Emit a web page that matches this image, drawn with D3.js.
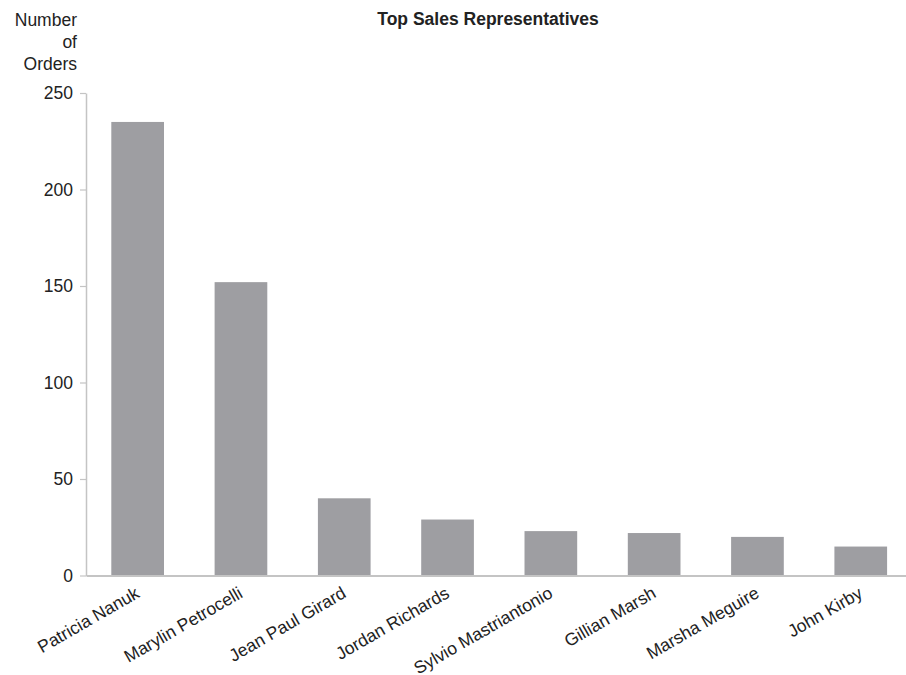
<!DOCTYPE html>
<html>
<head>
<meta charset="utf-8">
<script src="https://cdn.jsdelivr.net/npm/d3@7"></script>
<style>
  html, body { margin: 0; padding: 0; background: #fff; }
  svg { display: block; font-family: "Liberation Sans", Arial, sans-serif; }
</style>
</head>
<body>
<svg id="chart" width="906" height="675"></svg>
<script>
// Orders per sales representative
const reps = ["Patricia Nanuk", "Marylin Petrocelli", "Jean Paul Girard", "Jordan Richards",
              "Sylvio Mastriantonio", "Gillian Marsh", "Marsha Meguire", "John Kirby"];
const orders = [235, 152, 40, 29, 23, 22, 20, 15];
const yTicks = [0, 50, 100, 150, 200, 250];
const title = "Top Sales Representatives";
const yTitle = ["Number", "of", "Orders"];

const svg = d3.select("#chart");
const plotLeft = 86, plotTop = 93, plotBottom = 575.5, step = 103.3;
const fontSize = "17.5px";

const x = d3.scaleBand()
  .domain(reps)
  .range([plotLeft, plotLeft + step * reps.length])
  .paddingInner(0.49)
  .paddingOuter(0.245);

const y = d3.scaleLinear().domain([0, 250]).range([plotBottom, plotTop]);

const textColor = "#222";
const axisColor = "#c4c4c4";

// Bars
svg.append("g")
  .selectAll("rect")
  .data(reps)
  .join("rect")
  .attr("x", d => x(d))
  .attr("width", x.bandwidth())
  .attr("y", (d, i) => y(orders[i]))
  .attr("height", (d, i) => y(0) - y(orders[i]))
  .attr("fill", "#9e9ea2");

// Y axis
const yAxis = svg.append("g")
  .attr("transform", `translate(${plotLeft},0)`)
  .call(d3.axisLeft(y).tickValues(yTicks).tickSize(6).tickSizeOuter(0).tickPadding(7));
yAxis.select(".domain").attr("stroke", axisColor).attr("stroke-width", 1.5);
yAxis.selectAll(".tick line").attr("stroke", axisColor).attr("stroke-width", 1.2);
yAxis.selectAll(".tick text")
  .attr("fill", textColor)
  .style("font-size", fontSize)
  .style("font-family", "'Liberation Sans', Arial, sans-serif");

// X axis
const xAxis = svg.append("g")
  .attr("transform", `translate(0,${plotBottom})`)
  .call(d3.axisBottom(x).tickSize(0).tickSizeOuter(0).tickPadding(0));
xAxis.select(".domain").attr("stroke", axisColor).attr("stroke-width", 2);
xAxis.selectAll(".tick text")
  .attr("fill", textColor)
  .style("font-size", fontSize)
  .style("font-family", "'Liberation Sans', Arial, sans-serif")
  .attr("text-anchor", "end")
  .attr("dy", "0")
  .attr("transform", "translate(3,21) rotate(-30)");

// Title
svg.append("text")
  .attr("x", 488)
  .attr("y", 25)
  .attr("text-anchor", "middle")
  .attr("fill", textColor)
  .style("font-size", fontSize)
  .style("font-weight", "bold")
  .text(title);

// Y axis title
svg.append("text")
  .attr("text-anchor", "end")
  .attr("fill", textColor)
  .style("font-size", fontSize)
  .selectAll("tspan")
  .data(yTitle)
  .join("tspan")
  .attr("x", 77)
  .attr("y", (d, i) => 26 + i * 22)
  .text(d => d);
</script>
</body>
</html>
